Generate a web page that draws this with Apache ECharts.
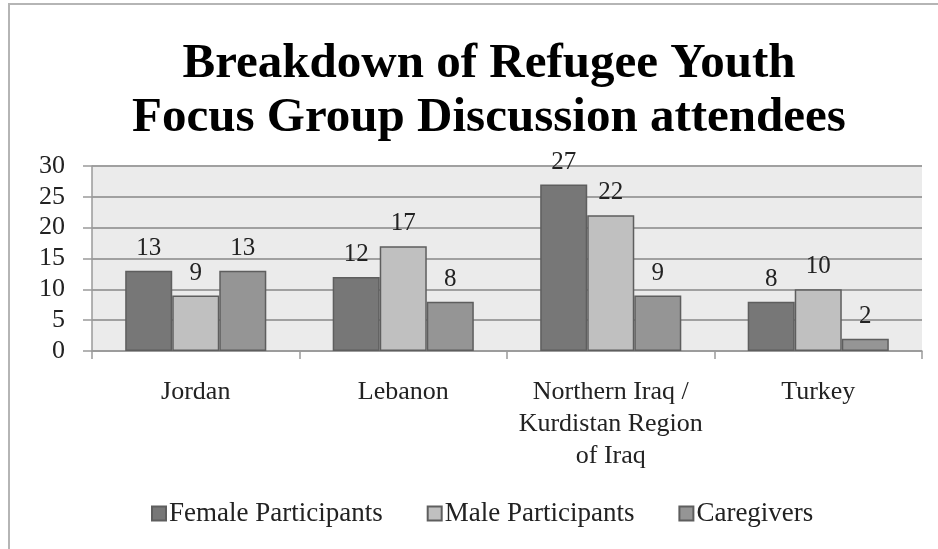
<!DOCTYPE html>
<html>
<head>
<meta charset="utf-8">
<script src="https://cdn.jsdelivr.net/npm/echarts@6/dist/echarts.min.js"></script>
<style>
  html, body { margin: 0; padding: 0; background: #fff; }
  #chart { width: 938px; height: 549px; }
</style>
</head>
<body>
<div id="chart"></div>
<script>
// datos del grafico
const categories = ['Jordan', 'Lebanon', 'Northern Iraq /\nKurdistan Region\nof Iraq', 'Turkey'];
const femaleParticipants = [13, 12, 27, 8];
const maleParticipants = [9, 17, 22, 10];
const caregivers = [13, 8, 9, 2];
const yTicks = [0, 5, 10, 15, 20, 25, 30];

const serif = 'Liberation Serif';

const makeSeries = (name, data, color) => ({
  name: name,
  type: 'bar',
  data: data,
  barGap: '0%',
  barCategoryGap: '32%',
  itemStyle: { color: color, borderColor: '#5e5e5e', borderWidth: 1.5 },
  label: {
    show: true,
    position: 'top',
    distance: 10,
    fontFamily: serif,
    fontSize: 25,
    color: '#222',
  },
});

const getOption = () => {
  return {
    backgroundColor: '#fff',
    animation: false,
    title: {
      text: 'Breakdown of Refugee Youth\nFocus Group Discussion attendees',
      left: 484,
      textAlign: 'center',
      top: 32,
      textStyle: {
        fontFamily: serif,
        fontWeight: 'bold',
        fontSize: 49,
        lineHeight: 54,
        color: '#000',
      },
    },
    legend: {
      bottom: 17,
      left: 146,
      itemWidth: 14,
      itemHeight: 14,
      itemGap: 44,
      icon: 'rect',
      textStyle: { fontFamily: serif, fontSize: 27, color: '#222', padding: [0, 0, 0, -2] },
      data: ['Female Participants', 'Male Participants', 'Caregivers'],
    },
    grid: {
      left: 92,
      right: 16,
      top: 166,
      bottom: 198,
      show: true,
      backgroundColor: '#ebebeb',
      borderWidth: 0,
    },
    xAxis: {
      type: 'category',
      data: categories,
      axisLine: { show: true, lineStyle: { color: '#9a9a9a', width: 1.5 } },
      axisTick: { show: true, length: 8, lineStyle: { color: '#9a9a9a', width: 1.5 } },
      axisLabel: {
        fontFamily: serif,
        fontSize: 26,
        color: '#222',
        lineHeight: 32,
        margin: 25,
        interval: 0,
      },
    },
    yAxis: {
      type: 'value',
      min: yTicks[0],
      max: yTicks[yTicks.length - 1],
      interval: 5,
      axisLine: { show: true, lineStyle: { color: '#9a9a9a', width: 1.5 } },
      axisTick: { show: true, length: 9, lineStyle: { color: '#9a9a9a', width: 1.5 } },
      splitLine: { show: true, lineStyle: { color: '#a0a0a0', width: 2 } },
      axisLabel: { fontFamily: serif, fontSize: 26, color: '#222', margin: 27 },
    },
    series: [
      makeSeries('Female Participants', femaleParticipants, '#777777'),
      makeSeries('Male Participants', maleParticipants, '#c0c0c0'),
      makeSeries('Caregivers', caregivers, '#959595'),
    ],
    graphic: [
      {
        type: 'polyline',
        shape: { points: [[9, 549], [9, 4], [938, 4]] },
        style: { stroke: '#b5b5b5', lineWidth: 2, fill: null },
      },
    ],
  };
};

const chart = echarts.init(document.getElementById('chart'));
chart.setOption(getOption());
</script>
</body>
</html>
